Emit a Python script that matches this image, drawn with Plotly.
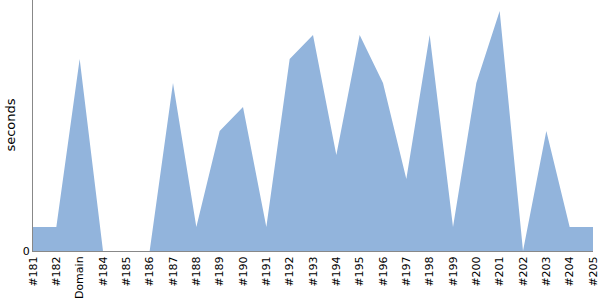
import plotly.graph_objects as go

categories = ["#181", "#182", "Domain", "#184", "#185", "#186", "#187", "#188", "#189",
              "#190", "#191", "#192", "#193", "#194", "#195", "#196", "#197", "#198",
              "#199", "#200", "#201", "#202", "#203", "#204", "#205"]
seconds = [1, 1, 8, 0, 0, 0, 7, 1, 5, 6, 1, 8, 9, 4, 9, 7, 3, 9, 1, 7, 10, 0, 5, 1, 1]

fig = go.Figure()
fig.add_trace(go.Scatter(
    x=list(range(len(categories))), y=seconds,
    mode="lines", fill="tozeroy",
    line=dict(color="#92b4dc", width=0),
    fillcolor="#92b4dc",
    hoverinfo="x+y",
))

fig.update_layout(
    width=600, height=300,
    margin=dict(l=33, r=5, t=0, b=49),
    paper_bgcolor="white", plot_bgcolor="white",
    showlegend=False,
    font=dict(family="DejaVu Sans", size=11, color="black"),
    xaxis=dict(
        range=[0, len(categories) - 1],
        tickmode="array",
        tickvals=list(range(len(categories))),
        ticktext=categories,
        tickangle=-90,
        ticklabeloverflow="allow",
        showgrid=False, zeroline=False,
        showline=True, linecolor="#888888", linewidth=1,
        ticks="", ticklen=0,
        tickfont=dict(size=11),
    ),
    yaxis=dict(
        range=[0, 251 / 24],
        tickmode="array", tickvals=[0], ticktext=["0"],
        showgrid=False, zeroline=False,
        showline=True, linecolor="#888888", linewidth=1,
        ticks="",
        tickfont=dict(size=11),
    ),
    annotations=[dict(
        text="seconds", textangle=-90, showarrow=False,
        xref="paper", yref="paper",
        x=(10 - 33) / 562, y=0.5, xanchor="center", yanchor="middle",
        font=dict(size=13, family="DejaVu Sans", color="black"),
    )],
)

fig.write_html("out.html")
